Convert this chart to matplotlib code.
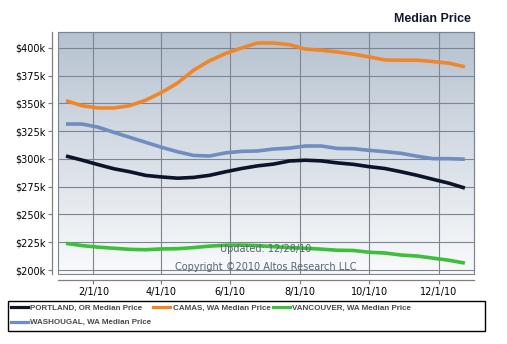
import numpy as np
import matplotlib
matplotlib.use('Agg')
import matplotlib.pyplot as plt
from matplotlib.patches import Rectangle
from matplotlib.lines import Line2D
import datetime as dt

# biweekly sample dates
date_str = ['2010-01-08', '2010-01-22', '2010-02-05', '2010-02-19', '2010-03-05',
            '2010-03-19', '2010-04-02', '2010-04-16', '2010-04-30', '2010-05-14',
            '2010-05-28', '2010-06-11', '2010-06-25', '2010-07-09', '2010-07-23',
            '2010-08-06', '2010-08-20', '2010-09-03', '2010-09-17', '2010-10-01',
            '2010-10-15', '2010-10-29', '2010-11-12', '2010-11-26', '2010-12-10',
            '2010-12-24']

# median price, $k
portland = [302.7, 299.0, 295.0, 291.2, 288.5, 285.2, 283.8, 282.7, 283.4, 285.3,
            288.5, 291.4, 293.8, 295.4, 298.2, 298.9, 298.3, 296.5, 295.2, 293.1,
            291.4, 288.5, 285.3, 281.7, 278.2, 273.8]
camas = [352.5, 348.0, 346.0, 346.0, 348.0, 353.0, 360.0, 368.5, 380.0, 388.5,
         395.0, 400.0, 404.5, 404.5, 403.0, 399.0, 398.0, 396.4, 394.5, 392.0,
         389.2, 389.0, 389.0, 387.8, 386.3, 383.0]
vancouver = [224.0, 222.0, 220.6, 219.6, 218.6, 218.3, 219.0, 219.2, 220.2, 221.5,
             222.3, 222.5, 222.0, 221.0, 220.2, 219.6, 218.8, 217.8, 217.6, 216.0,
             215.3, 213.5, 212.6, 210.7, 208.8, 206.2]
washougal = [331.5, 331.5, 328.7, 324.0, 319.5, 315.0, 310.5, 306.5, 303.2, 302.7,
             305.5, 306.9, 307.2, 309.0, 309.8, 311.7, 311.7, 309.5, 309.3, 307.8,
             306.6, 305.1, 302.5, 300.3, 300.3, 299.8]

series = [('PORTLAND, OR Median Price', portland, '#0b1428'),
          ('CAMAS, WA Median Price', camas, '#f0862a'),
          ('VANCOUVER, WA Median Price', vancouver, '#3dbf3a'),
          ('WASHOUGAL, WA Median Price', washougal, '#6f8dc0')]

yticks = [200, 225, 250, 275, 300, 325, 350, 375, 400]
xtick_str = ['2010-02-01', '2010-04-01', '2010-06-01', '2010-08-01', '2010-10-01', '2010-12-01']

dates = [dt.datetime.strptime(s, '%Y-%m-%d') for s in date_str]
xticks = [dt.datetime.strptime(s, '%Y-%m-%d') for s in xtick_str]

W, H = 507, 344
fig = plt.figure(figsize=(W / 100, H / 100), dpi=100)
ax = fig.add_axes([58 / W, 1 - 274 / H, (474 - 58) / W, (274 - 32) / H])

# gradient background
grad = np.linspace(0, 1, 256).reshape(-1, 1)
top = np.array([0xb6, 0xc2, 0xd0]) / 255
bot = np.array([0xf9, 0xfa, 0xfc]) / 255
img = top + (bot - top) * grad[:, :, None]
ax.imshow(img, extent=[0, 1, 0, 1], transform=ax.transAxes, aspect='auto', zorder=0)

for label, vals, col in series:
    ax.plot(dates, vals, color=col, lw=2.6, label=label, zorder=3, solid_capstyle='butt')

ax.set_xlim(dt.datetime(2010, 1, 1), dt.datetime(2011, 1, 1))
ax.set_ylim(196.4, 414.4)
ax.set_yticks(yticks)
ax.set_yticklabels(['$%dk' % v for v in yticks])
ax.set_xticks(xticks)
ax.set_xticklabels(['%d/%d/%02d' % (d.month, d.day, d.year % 100) for d in xticks])

gcol = '#7d8590'
ax.grid(True, color=gcol, lw=0.8, zorder=1)
for ln in ax.get_xgridlines() + ax.get_ygridlines():
    ln.set_zorder(1)

for s in ['top', 'right']:
    ax.spines[s].set_color(gcol)
    ax.spines[s].set_linewidth(0.8)
for s in ['left', 'bottom']:
    ax.spines[s].set_position(('outward', 4))
    ax.spines[s].set_color('#808080')
    ax.spines[s].set_linewidth(0.9)
ax.add_patch(Rectangle((0, 0), 1, 1, transform=ax.transAxes, fill=False,
                       edgecolor=gcol, lw=0.8, zorder=4, clip_on=False))
ax.tick_params(axis='both', length=3, width=0.9, color='#808080', labelsize=7,
               labelcolor='#000000', pad=2)

fig.text(471 / W, 1 - 19 / H, 'Median Price', ha='right', va='center',
         fontsize=8.9, fontweight='bold', family='Liberation Sans', color='#111a2c')

ax.text(0.5, 1 - (249 - 32) / (274 - 32), 'Updated: 12/28/10', transform=ax.transAxes,
        ha='center', va='center', fontsize=7, color='#5a6272', zorder=5)
ax.text(0.5, 1 - (266.5 - 32) / (274 - 32), 'Copyright \u00a92010 Altos Research LLC',
        transform=ax.transAxes, ha='center', va='center', fontsize=7, color='#5a6272', zorder=5)

# legend box
fig.patches.append(Rectangle((8 / W, 1 - 331 / H), (485 - 8) / W, (331 - 300.5) / H,
                             transform=fig.transFigure, fill=False, edgecolor='black', lw=1.0))
# column-major fill: first column holds Portland and Washougal
order = [0, 3, 1, 2]
handles = [Line2D([], [], color=series[i][2], lw=2.3) for i in order]
labels = [series[i][0] for i in order]
leg = fig.legend(handles, labels, loc='upper left', bbox_to_anchor=(9 / W, 1 - 303 / H),
                 ncol=3, frameon=False, handlelength=2.1, handletextpad=0.3,
                 columnspacing=0.3, labelspacing=0.8, borderpad=0.2, borderaxespad=0,
                 prop={'family': 'Liberation Sans', 'weight': 'bold', 'size': 5.8})
for t in leg.get_texts():
    t.set_color('#4a4a4a')

fig.savefig('out.png', dpi=100)
